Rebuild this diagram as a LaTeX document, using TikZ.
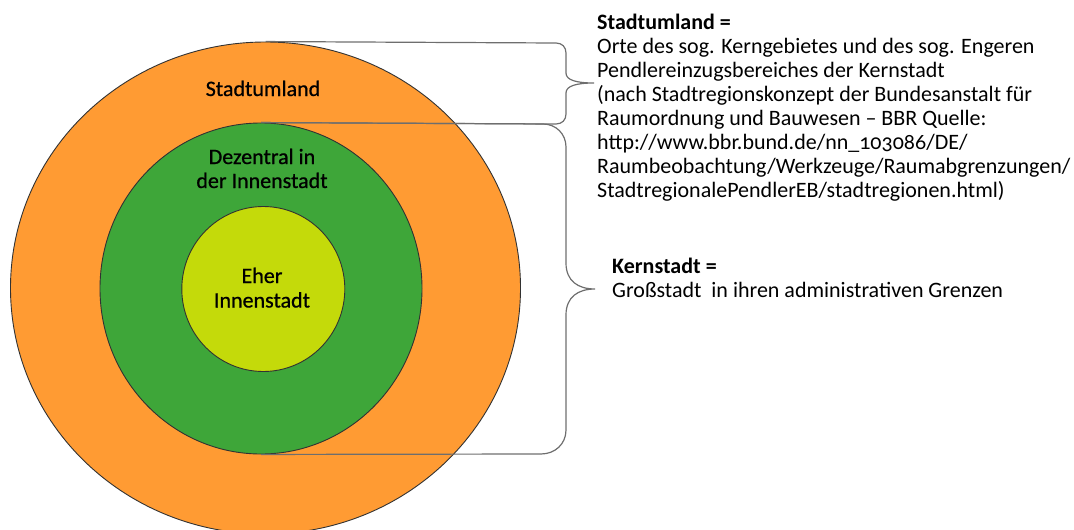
\documentclass[tikz,border=0pt]{standalone}
\usepackage{fontspec}
\setmainfont{Carlito}[Numbers=OldStyle]
\newfontfamily\labelfont{Carlito}[Numbers=OldStyle,FakeBold=0.7]
\usetikzlibrary{shapes.geometric}
\definecolor{ringorange}{RGB}{255,155,51}
\definecolor{ringgreen}{RGB}{62,166,57}
\definecolor{ringyellow}{RGB}{196,218,10}
\definecolor{bracegray}{RGB}{110,110,110}
\definecolor{ringedge}{RGB}{50,50,50}
\tikzset{
  ring/.style={ellipse, draw=ringedge, line width=0.9pt, inner sep=0pt},
  ringlabel/.style={inner sep=0pt, anchor=base, font=\labelfont\fontsize{22}{24}\selectfont, align=center},
  conn/.style={draw=bracegray, line width=1.2pt},
  note/.style={inner sep=0pt, anchor=base west, align=left, font=\fontsize{22}{24}\selectfont}
}
\begin{document}
\begin{tikzpicture}[x=1pt,y=-1pt]
\useasboundingbox (0,0) rectangle (1074,530);
\node[ring, fill=ringorange, minimum width=510pt, minimum height=492pt] (outer) at (265.5,288) {};
\node[ring, fill=ringgreen, minimum width=322pt, minimum height=331pt] (mid) at (261,288.5) {};
\node[ring, fill=ringyellow, minimum width=163pt, minimum height=165pt] (inner) at (263.3,289) {};

\node[ringlabel] (lumland) at (263,96) {Stadtumland};
\node[ringlabel] (ldez1) at (262,164) {Dezentral in};
\node[ringlabel] (ldez2) at (262,188) {der Innenstadt};
\node[ringlabel] (leher1) at (262,283) {Eher};
\node[ringlabel] (leher2) at (262,307.5) {Innenstadt};

\coordinate (tipA) at (594,83);
\coordinate (tipB) at (595,289);

\draw[conn] (outer.north) -- (556,43) .. controls (562,43) and (566,47) .. (566,53)
  -- (566,73) .. controls (566,80) and (576,83) .. (tipA)
  .. controls (576,83) and (566,86) .. (566,93)
  -- (566,114) .. controls (566,120) and (562,124) .. (556,124) -- (mid.north);
\draw[conn] (mid.north) -- (543,124) .. controls (556,124) and (566,134) .. (566,147)
  -- (566,263) .. controls (566,281) and (578,289) .. (tipB)
  .. controls (578,289) and (566,297) .. (566,315)
  -- (566,430) .. controls (566,444) and (555,454) .. (541,454) -- (mid.south);

\node[note] (tumland) at (597,197) {\textbf{Stadtumland =}\\
Orte des sog. Kerngebietes und des sog. Engeren\\
Pendlereinzugsbereiches der Kernstadt\\
(nach Stadtregionskonzept der Bundesanstalt für\\
Raumordnung und Bauwesen -- BBR Quelle:\\
http://www.bbr.bund.de/nn\_103086/DE/\\
Raumbeobachtung/Werkzeuge/Raumabgrenzungen/\\
StadtregionalePendlerEB/stadtregionen.html)};
\node[note] (tkern) at (612,297) {\textbf{Kernstadt =}\\
Großstadt\ \ in ihren administrativen Grenzen};
\end{tikzpicture}
\end{document}
